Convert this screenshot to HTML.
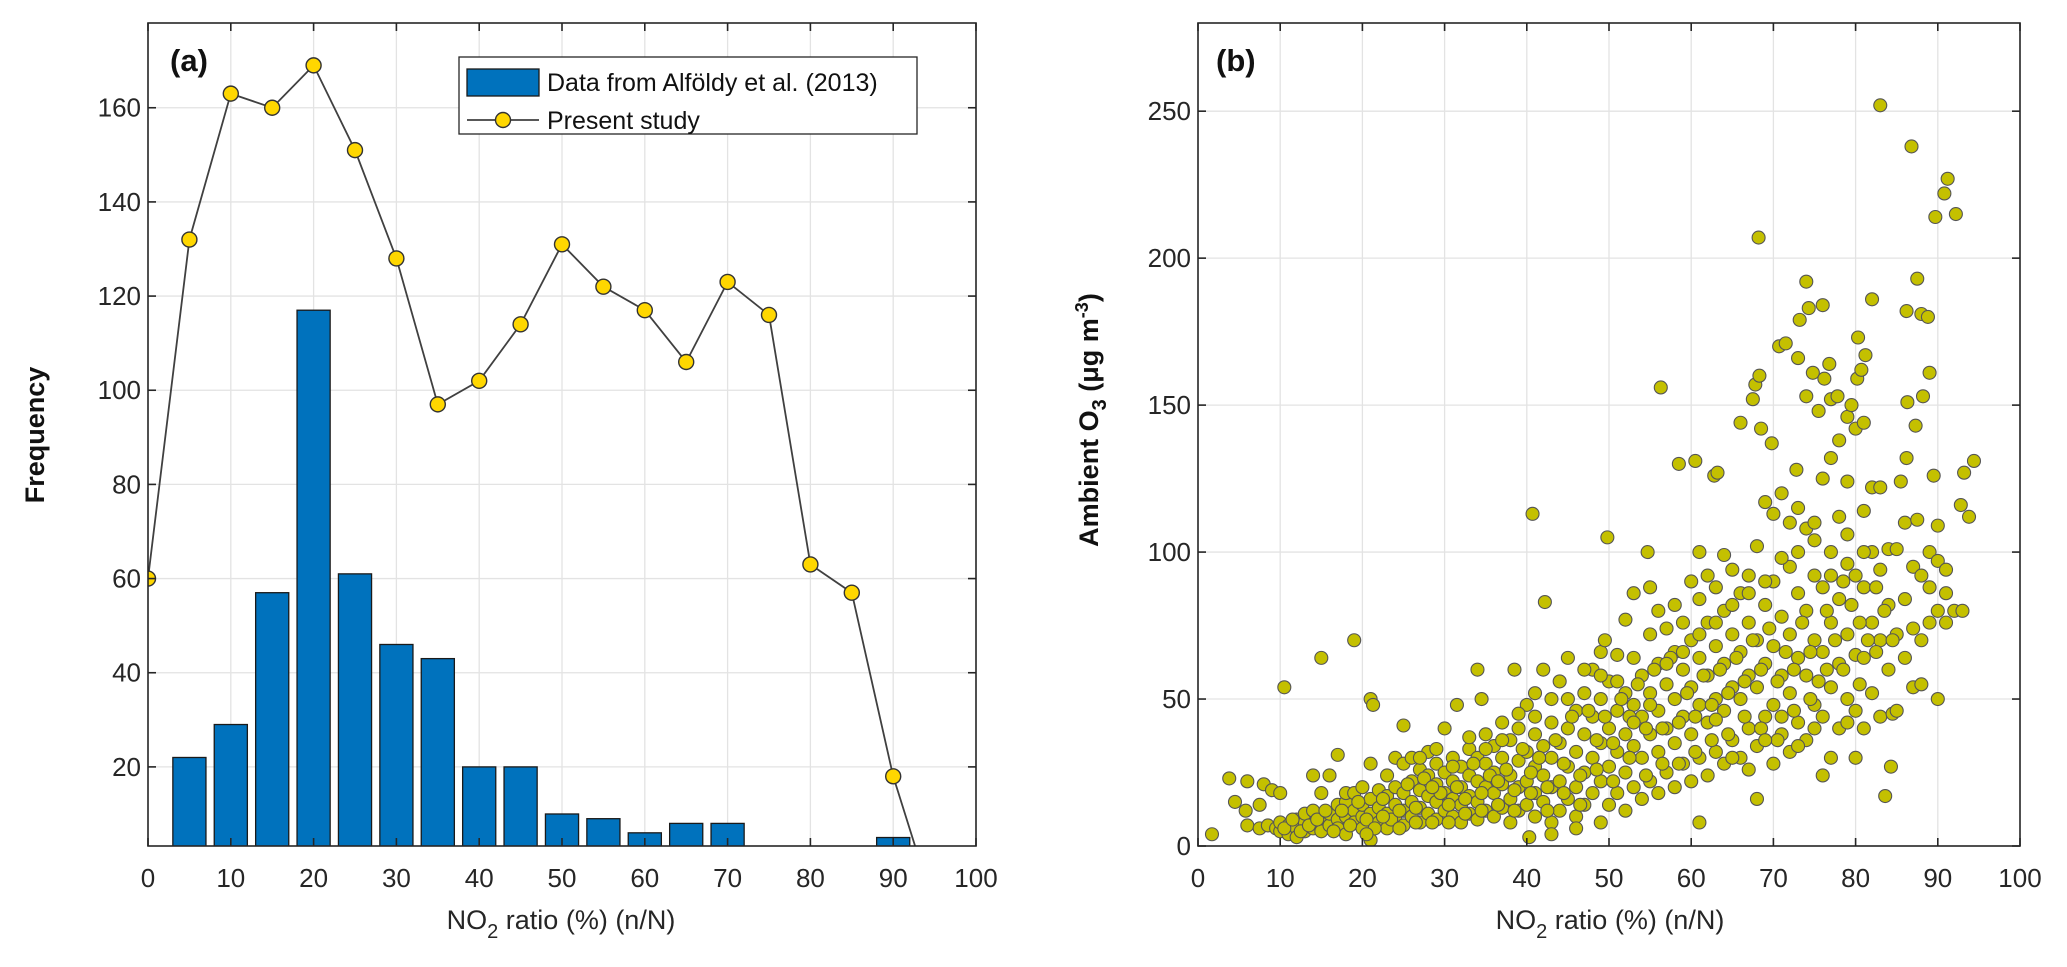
<!DOCTYPE html>
<html><head><meta charset="utf-8"><style>
html,body{margin:0;padding:0;background:#fff;}
svg{display:block;font-family:"Liberation Sans",Arial,sans-serif;}
</style></head><body>
<svg id="fig" width="2067" height="967" viewBox="0 0 2067 967" xmlns="http://www.w3.org/2000/svg">
<g id="pa"></g>
<g id="pb"></g>
</svg>
<script>
// Panel (a) data
const barCats = [5,10,15,20,25,30,35,40,45,50,55,60,65,70,75,80,85,90];
const barVals = [22,29,57,117,61,46,43,20,20,10,9,6,8,8,0,0,0,5];
const lineX = [0,5,10,15,20,25,30,35,40,45,50,55,60,65,70,75,80,85,90,95];
const lineY = [60,132,163,160,169,151,128,97,102,114,131,122,117,106,123,116,63,57,18,-10];
const xTicksA = [0,10,20,30,40,50,60,70,80,90,100];
const yTicksA = [20,40,60,80,100,120,140,160];
// Panel (b) data
const xTicksB = [0,10,20,30,40,50,60,70,80,90,100];
const yTicksB = [0,50,100,150,200,250];
const o3Points = [
[1.7,4],[3.8,23],[4.5,15],[6,22],[5.8,12],[6,7],[7.5,14],[8,21],[7.5,6],[9,19],[10,18],[10.5,54],[15,64],[19,70],[21,50],[21.3,48],[17,31],[25,41],
[8.5,7],[9.5,6],[10,5],[10,8],[11,7],[11,4],[12,9],[12,6],[12,3],[13,8],[13,5],[13,11],[14,6],[14,12],[14,24],[15,9],[15,5],[15,18],[16,7],[16,11],[16,24],[17,9],[17,14],[17,6],[18,10],[18,15],[18,4],[18,18],[19,12],[19,8],[19,18],[20,6],[20,10],[20,14],[20,20],[21,2],[21,11],[21,16],[21,28],[22,8],[22,13],[22,19],[23,6],[23,11],[23,17],[23,24],[24,9],[24,14],[24,20],[24,30],
[25,7],[25,12],[25,18],[25,28],[26,10],[26,15],[26,22],[26,30],[27,8],[27,13],[27,19],[27,26],[28,11],[28,17],[28,24],[28,32],[29,9],[29,15],[29,21],[29,28],[30,12],[30,18],[30,25],[30,40],[31,10],[31,16],[31,22],[31,30],[32,8],[32,14],[32,20],[32,27],[31.5,48],[33,11],[33,17],[33,24],[33,33],[34,9],[34,15],[34,22],[34,30],[34,60],[35,12],[35,20],[35,28],[35,38],[34.5,50],[36,10],[36,18],[36,25],[36,34],[37,13],[37,21],[37,30],[37,42],[38,8],[38,16],[38,24],[38,36],[38.5,60],[39,12],[39,20],[39,29],[39,40],[40,14],[40,22],[40,32],[40,48],[40.3,3],[41,10],[41,18],[41,27],[41,38],[41,52],[40.7,113],[42,15],[42,24],[42,34],[42,60],[42.2,83],[43,8],[43,20],[43,30],[43,42],[43,4],[44,12],[44,22],[44,35],[44,56],[45,16],[45,27],[45,40],[45,64],[46,10],[46,20],[46,32],[46,46],[46,6],[47,14],[47,25],[47,38],[47,52],[48,18],[48,30],[48,44],[48,60],[49,8],[49,22],[49,35],[49,50],[49,66],[50,14],[50,27],[50,40],[50,56],[49.5,70],[49.8,105],[51,18],[51,32],[51,46],[51,65],[52,12],[52,25],[52,38],[52,52],[52,77],[53,20],[53,34],[53,48],[53,64],[53,86],[54,16],[54,30],[54,44],[54,58],[54.7,100],[55,22],[55,38],[55,52],[55,72],[55,88],[56,18],[56,32],[56,46],[56,62],[56,80],[56.3,156],[57,25],[57,40],[57,55],[57,74],[58,20],[58,35],[58,50],[58,66],[58,82],[58.5,130],[59,28],[59,44],[59,60],[59,76],[60,22],[60,38],[60,54],[60,70],[60,90],[60.5,131],[61,8],[61,30],[61,48],[61,64],[61,84],[61,100],[62,24],[62,42],[62,58],[62,76],[62,92],[63,32],[63,50],[63,68],[63,88],[62.8,126],[63.2,127],[64,28],[64,46],[64,62],[64,80],[64,99],[65,36],[65,54],[65,72],[65,94],[66,30],[66,50],[66,66],[66,86],[66,144],[67,40],[67,58],[67,76],[67,92],[67.5,152],[68,16],[68,34],[68,54],[68,70],[68,102],[67.8,157],[68.3,160],[68.2,207],[68.5,142],[69,44],[69,62],[69,82],[69,117],[70,28],[70,48],[70,68],[70,90],[70,113],[69.8,137],[71,38],[71,58],[71,78],[71,120],[70.7,170],[71.5,171],[72,32],[72,52],[72,72],[72,95],[72,110],[73,42],[73,64],[73,86],[73,115],[72.8,128],[73,166],[73.2,179],[74,36],[74,58],[74,80],[74,108],[74,153],[74,192],[74.3,183],[75,48],[75,70],[75,92],[75,110],[74.8,161],[76,24],[76,44],[76,66],[76,88],[76,125],[75.5,148],[76,184],[76.2,159],[77,54],[77,76],[77,100],[77,132],[77,152],[76.8,164],[78,40],[78,62],[78,84],[78,112],[78,138],[77.8,153],[79,50],[79,72],[79,96],[79,124],[79,146],[79.5,150],[80,30],[80,46],[80,65],[80,92],[80,142],[80.2,159],[80.3,173],[80.7,162],[81,40],[81,64],[81,88],[81,114],[81,144],[81.2,167],[82,52],[82,76],[82,100],[82,122],[82,186],[83,44],[83,70],[83,94],[83,122],[83,252],[84,60],[84,82],[84,101],[83.6,17],[84.3,27],[84.5,45],[85,46],[85,72],[85,101],[85.5,124],[86,64],[86,84],[86,110],[86.3,151],[86.2,132],[86.2,182],[86.8,238],[87,54],[87,74],[87,95],[87.3,143],[87.5,111],[87.5,193],[88,70],[88,92],[88,55],[88.2,153],[88,181],[88.8,180],[89,76],[89,100],[89,161],[89.5,126],[89,88],[89.7,214],[90,80],[90,97],[90,109],[90,50],[90.8,222],[91.2,227],[91,76],[91,86],[91,94],[92,80],[92.2,215],[92.8,116],[93.2,127],[93.8,112],[94.4,131],[93,80],
[10.5,6],[11.5,9],[12.5,5],[13.5,7],[14.5,9],[15.5,12],[16.5,5],[17.5,12],[18.5,7],[19.5,15],[20.5,9],[21.5,6],[22.5,16],[23.5,9],[24.5,12],[25.5,21],[26.5,13],[27.5,23],[28.5,8],[29.5,18],[30.5,14],[31.5,20],[32.5,11],[33.5,28],[34.5,18],[35.5,24],[36.5,14],[37.5,26],[38.5,19],[39.5,33],[40.5,25],[41.5,30],[42.5,20],[43.5,36],[44.5,28],[45.5,44],[46.5,24],[47.5,46],[48.5,26],[49.5,44],[50.5,35],[51.5,50],[52.5,30],[53.5,55],[54.5,40],[55.5,60],[56.5,28],[57.5,64],[58.5,42],[59.5,52],[60.5,44],[61.5,58],[62.5,36],[63.5,60],[64.5,52],[65.5,64],[66.5,44],[67.5,70],[68.5,60],[69.5,74],[70.5,56],[71.5,66],[72.5,46],[73.5,76],[74.5,66],[75.5,56],[76.5,80],[77.5,70],[78.5,60],[79.5,82],[80.5,76],[81.5,70],[82.5,88],[83.5,80],[84.5,70],
[20.5,4],[22.5,10],[24.5,6],[26.5,8],[28.5,20],[30.5,8],[32.5,16],[34.5,12],[36.5,22],[38.5,12],[40.5,18],[42.5,12],[44.5,18],[46.5,14],[48.5,36],[50.5,22],[52.5,44],[54.5,24],[56.5,40],[58.5,28],[60.5,32],[62.5,48],[64.5,38],[66.5,56],[68.5,40],[70.5,36],[72.5,60],[74.5,50],[76.5,60],[78.5,90],[80.5,55],[82.5,66],
[27,30],[29,33],[31,27],[33,37],[35,33],[37,36],[39,45],[41,44],[43,50],[45,50],[47,60],[49,58],[51,56],[53,42],[55,48],[57,62],[59,66],[61,72],[63,76],[65,82],[67,86],[69,90],[71,98],[73,100],[75,104],[77,92],[79,106],[81,100],[63,43],[65,30],[67,26],[69,36],[71,44],[73,34],[75,40],[77,30],[79,42]
];

const NS = 'http://www.w3.org/2000/svg';
function mk(parent, tag, attrs, text){
  const e = document.createElementNS(NS, tag);
  for (const k in attrs) e.setAttribute(k, attrs[k]);
  if (text !== undefined) e.textContent = text;
  parent.appendChild(e);
  return e;
}
const AXC = '#262626', GRID = '#e3e3e3';

function axesFrame(g, L, R, T, B, sx, sy, xt, yt, clipId){
  const grid = mk(g,'g',{});
  
  
  xt.forEach(v=>{ const x=sx(v); mk(grid,'line',{x1:x,x2:x,y1:T,y2:B,stroke:GRID,'stroke-width':1.3}); });
  yt.forEach(v=>{ const y=sy(v); mk(grid,'line',{x1:L,x2:R,y1:y,y2:y,stroke:GRID,'stroke-width':1.3}); });
  const cp = mk(g,'clipPath',{id:clipId});
  mk(cp,'rect',{x:L,y:T,width:R-L,height:B-T});
}
function axesBox(g, L, R, T, B, sx, sy, xt, yt){
  const ax = mk(g,'g',{});
  
  
  mk(ax,'rect',{x:L,y:T,width:R-L,height:B-T,fill:'none',stroke:AXC,'stroke-width':1.6});
  const xl = mk(g,'g',{'font-size':26,fill:'#262626','text-anchor':'middle'});
  
  
  xt.forEach(v=>{ const x=sx(v);
    mk(ax,'line',{x1:x,x2:x,y1:B,y2:B-8,stroke:AXC,'stroke-width':1.6});
    mk(ax,'line',{x1:x,x2:x,y1:T,y2:T+8,stroke:AXC,'stroke-width':1.6});
    mk(xl,'text',{x:x,y:B+41},String(v)); });
  const yl = mk(g,'g',{'font-size':26,fill:'#262626','text-anchor':'end'});
  
  
  yt.forEach(v=>{ const y=sy(v);
    mk(ax,'line',{x1:L,x2:L+8,y1:y,y2:y,stroke:AXC,'stroke-width':1.6});
    mk(ax,'line',{x1:R,x2:R-8,y1:y,y2:y,stroke:AXC,'stroke-width':1.6});
    mk(yl,'text',{x:L-7,y:y+9},String(v)); });
}

// ---------- Panel A ----------
(function(){
  const g = document.getElementById('pa');
  const L=148,R=976,T=23,B=846;
  const x0=0,x1=100,y0=3.2,y1=178;
  const sx=v=>L+(v-x0)/(x1-x0)*(R-L);
  const sy=v=>B-(v-y0)/(y1-y0)*(B-T);
  axesFrame(g,L,R,T,B,sx,sy,xTicksA,yTicksA,'clipA');
  const data = mk(g,'g',{'clip-path':'url(#clipA)'});
  const bars = mk(data,'g',{});
  
  
  const bw = 4*(R-L)/100;
  barCats.forEach((c,i)=>{
    const y=sy(barVals[i]);
    const r = mk(bars,'rect',{x:sx(c)-bw/2,y:y,width:bw,height:Math.max(0,B+5-y),fill:'#0072bd',stroke:'#1a1a1a','stroke-width':1.3});
    
    
  });
  const ln = mk(data,'g',{});
  
  
  mk(ln,'polyline',{points:lineX.map((x,i)=>sx(x)+','+sy(lineY[i])).join(' '),fill:'none',stroke:'#404040','stroke-width':1.8});
  lineX.forEach((x,i)=>{
    const c = mk(ln,'circle',{cx:sx(x),cy:sy(lineY[i]),r:7.5,fill:'#ffd700',stroke:'#333','stroke-width':1.4});
    
    
  });
  axesBox(g,L,R,T,B,sx,sy,xTicksA,yTicksA);
  const lg = mk(g,'g',{});
  
  
  mk(lg,'rect',{x:459,y:57,width:458,height:77,fill:'#fff',stroke:'#262626','stroke-width':1.3});
  const e1 = mk(lg,'g',{});
  
  
  mk(e1,'rect',{x:467,y:69,width:72,height:27,fill:'#0072bd',stroke:'#1a1a1a','stroke-width':1.3});
  mk(e1,'text',{x:547,y:91,'font-size':25,fill:'#111'},'Data from Alföldy et al. (2013)');
  const e2 = mk(lg,'g',{});
  
  
  mk(e2,'line',{x1:467,x2:539,y1:120,y2:120,stroke:'#404040','stroke-width':1.8});
  mk(e2,'circle',{cx:503,cy:120,r:7.5,fill:'#ffd700',stroke:'#333','stroke-width':1.4});
  mk(e2,'text',{x:547,y:129,'font-size':25,fill:'#111'},'Present study');
  const pl = mk(g,'text',{x:170,y:71,'font-size':31,'font-weight':'bold',fill:'#111'},'(a)');
  
  
  const yl = mk(g,'text',{x:0,y:0,'font-size':27,'font-weight':'bold',fill:'#111','text-anchor':'middle',transform:'translate(44,435) rotate(-90)'},'Frequency');
  
  
  const xl = mk(g,'text',{x:561,y:929,'font-size':27,fill:'#262626','text-anchor':'middle'});
  
  
  xl.innerHTML = 'NO<tspan dy="9" font-size="20">2</tspan><tspan dy="-9"> ratio (%) (n/N)</tspan>';
})();

// ---------- Panel B ----------
(function(){
  const g = document.getElementById('pb');
  const L=1198,R=2020,T=23,B=846;
  const x0=0,x1=100,y0=0,y1=280;
  const sx=v=>L+(v-x0)/(x1-x0)*(R-L);
  const sy=v=>B-(v-y0)/(y1-y0)*(B-T);
  axesFrame(g,L,R,T,B,sx,sy,xTicksB,yTicksB,'clipB');
  const sc = mk(g,'g',{'clip-path':'url(#clipB)'});
  
  
  o3Points.forEach((p,i)=>{
    const c = mk(sc,'circle',{cx:sx(p[0]),cy:sy(p[1]),r:6.5,fill:'#c4c000',stroke:'#555','stroke-width':1.1});
    
    
  });
  axesBox(g,L,R,T,B,sx,sy,xTicksB,yTicksB);
  const pl = mk(g,'text',{x:1216,y:71,'font-size':31,'font-weight':'bold',fill:'#111'},'(b)');
  
  
  const yl = mk(g,'text',{x:0,y:0,'font-size':27,'font-weight':'bold',fill:'#111','text-anchor':'middle',transform:'translate(1098,420) rotate(-90)'});
  
  
  yl.innerHTML = 'Ambient O<tspan dy="8" font-size="20">3</tspan><tspan dy="-8"> (μg m</tspan><tspan dy="-10" font-size="18">-3</tspan><tspan dy="10">)</tspan>';
  const xl = mk(g,'text',{x:1610,y:929,'font-size':27,fill:'#262626','text-anchor':'middle'});
  
  
  xl.innerHTML = 'NO<tspan dy="9" font-size="20">2</tspan><tspan dy="-9"> ratio (%) (n/N)</tspan>';
})();
</script>
</body></html>
